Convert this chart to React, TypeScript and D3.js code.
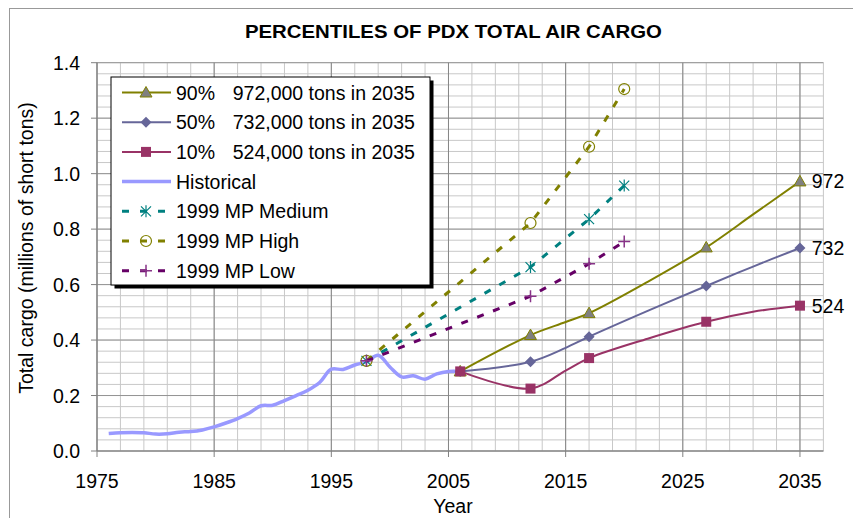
import React from "react";
import * as d3 from "d3";

// historical cargo, millions of short tons
const histYears = [
  1976, 1977, 1978, 1979, 1980, 1981, 1982, 1983, 1984, 1985, 1986, 1987, 1988,
  1989, 1990, 1991, 1992, 1993, 1994, 1995, 1996, 1997, 1998, 1999, 2000, 2001,
  2002, 2003, 2004, 2005, 2006,
];
const histCargo = [
  0.063, 0.066, 0.067, 0.066, 0.061, 0.062, 0.068, 0.07, 0.076, 0.087, 0.101,
  0.117, 0.137, 0.163, 0.165, 0.182, 0.2, 0.219, 0.247, 0.295, 0.294, 0.31,
  0.322, 0.345, 0.303, 0.267, 0.271, 0.259, 0.278, 0.287, 0.287,
];

// percentile forecasts
const fcYears = [2006, 2012, 2015, 2017, 2022, 2027, 2031, 2035];
const markerYears = [2006, 2012, 2017, 2027, 2035];
const p90 = [0.287, 0.418, 0.465, 0.497, 0.61, 0.734, 0.853, 0.972];
const p50 = [0.287, 0.322, 0.372, 0.412, 0.505, 0.595, 0.665, 0.732];
const p10 = [0.287, 0.225, 0.29, 0.335, 0.405, 0.466, 0.502, 0.524];

// 1999 master plan
const mpYears = [1998, 2012, 2017, 2020];
const mpHigh = [0.325, 0.822, 1.097, 1.305];
const mpMedium = [0.325, 0.663, 0.836, 0.957];
const mpLow = [0.325, 0.558, 0.675, 0.755];

const xTicks = [1975, 1985, 1995, 2005, 2015, 2025, 2035];
const yTicks = [0, 0.2, 0.4, 0.6, 0.8, 1.0, 1.2, 1.4];

const legendLabels = [
  ["90%", "972,000 tons in 2035"],
  ["50%", "732,000 tons in 2035"],
  ["10%", "524,000 tons in 2035"],
  ["Historical", ""],
  ["1999 MP Medium", ""],
  ["1999 MP High", ""],
  ["1999 MP Low", ""],
];

const W = 853;
const H = 518;
const FONT = "'Liberation Sans', Arial, sans-serif";

const x = d3.scaleLinear().domain([1975, 2037]).range([97, 823.4]);
const y = d3.scaleLinear().domain([0, 1.4]).range([451, 62.7]);

type Pt = [number, number];
const zip = (xs: number[], ys: number[]): Pt[] => xs.map((d, i) => [d, ys[i]]);

const smooth = d3
  .line<Pt>()
  .x((d) => x(d[0]))
  .y((d) => y(d[1]))
  .curve(d3.curveCatmullRom.alpha(0.5));
const straight = d3
  .line<Pt>()
  .x((d) => x(d[0]))
  .y((d) => y(d[1]));

function Marker({ kind, cx, cy }: { kind: string; cx: number; cy: number }) {
  const t = `translate(${cx},${cy})`;
  if (kind === "tri")
    return <path transform={t} d="M0,-6L6,4.5L-6,4.5Z" fill="#808080" stroke="#808000" strokeWidth={1} />;
  if (kind === "dia")
    return <path transform={t} d="M0,-5.5L5.5,0L0,5.5L-5.5,0Z" fill="#666699" />;
  if (kind === "sq")
    return <rect transform={t} x={-5} y={-5} width={10} height={10} fill="#993366" />;
  if (kind === "star")
    return (
      <path transform={t} d="M-5,-5L5,5M-5,5L5,-5M0,-6L0,6" stroke="#008080" strokeWidth={1.2} fill="none" />
    );
  if (kind === "circ")
    return <circle transform={t} r={5.5} fill="none" stroke="#808000" strokeWidth={1.2} />;
  if (kind === "plus")
    return <path transform={t} d="M-6,0L6,0M0,-6L0,6" stroke="#883388" strokeWidth={1.5} fill="none" />;
  return null;
}

const solidSeries = [
  { vals: p90, color: "#808000", marker: "tri" },
  { vals: p50, color: "#666699", marker: "dia" },
  { vals: p10, color: "#993366", marker: "sq" },
];
const dashSeries = [
  { vals: mpMedium, color: "#008080", marker: "star" },
  { vals: mpHigh, color: "#808000", marker: "circ" },
  { vals: mpLow, color: "#660066", marker: "plus" },
];

export default function App() {
  const minorX = d3.range(1975, 2038, 2);
  const minorY = d3.range(0, 1.4001, 0.04);
  const [x0, x1] = x.range();
  const [y0, y1] = y.range();

  const legendX = 111;
  const legendY = 77;
  const rowY = (i: number) => 92.5 + i * 29.7;

  return (
    <svg
      width={W}
      height={H}
      style={{ position: "absolute", left: 0, top: 0, display: "block", background: "#fff" }}
      fontFamily={FONT}
    >
      <rect x={9.5} y={8.5} width={W + 20} height={H + 20} fill="#fff" stroke="#999" />

      <text x={453.4} y={37.5} textAnchor="middle" fontWeight="bold" fontSize={18} textLength={417} lengthAdjust="spacingAndGlyphs">
        PERCENTILES OF PDX TOTAL AIR CARGO
      </text>

      {/* grid */}
      <g>
        {minorY.map((v) => (
          <line key={"hy" + v} x1={x0} x2={x1} y1={y(v)} y2={y(v)} stroke="#c8c8c8" />
        ))}
        {minorX.map((v) => (
          <line key={"vx" + v} x1={x(v)} x2={x(v)} y1={y0} y2={y1} stroke="#c8c8c8" />
        ))}
        {yTicks.map((v) => (
          <line key={"hY" + v} x1={x0} x2={x1} y1={y(v)} y2={y(v)} stroke="#959595" />
        ))}
        {xTicks.map((v) => (
          <line key={"vX" + v} x1={x(v)} x2={x(v)} y1={y0} y2={y1} stroke="#858585" />
        ))}
      </g>

      {/* axes */}
      <g stroke="#808080">
        <line x1={x0} x2={x0} y1={y0} y2={y1} />
        <line x1={x0} x2={x1} y1={y0} y2={y0} />
        {yTicks.map((v) => (
          <line key={"yt" + v} x1={x0 - 6} x2={x0} y1={y(v)} y2={y(v)} />
        ))}
        {xTicks.map((v) => (
          <line key={"xt" + v} x1={x(v)} x2={x(v)} y1={y0} y2={y0 + 6} />
        ))}
      </g>
      <g fontSize={19.5} fill="#000">
        {yTicks.map((v) => (
          <text key={"yl" + v} x={80} y={y(v) + 7} textAnchor="end">
            {d3.format(".1f")(v)}
          </text>
        ))}
        {xTicks.map((v) => (
          <text key={"xl" + v} x={x(v)} y={488} textAnchor="middle">
            {v}
          </text>
        ))}
        <text x={453} y={513} textAnchor="middle">
          Year
        </text>
        <text transform="translate(33,248) rotate(-90)" textAnchor="middle">
          Total cargo (millions of short tons)
        </text>
      </g>

      {/* historical */}
      <path d={smooth(zip(histYears, histCargo)) || ""} fill="none" stroke="#9999ff" strokeWidth={3.5} strokeLinejoin="round" />

      {/* 1999 master plan */}
      {dashSeries.map((s, i) => (
        <g key={"mp" + i}>
          <path d={straight(zip(mpYears, s.vals)) || ""} fill="none" stroke={s.color} strokeWidth={3} strokeDasharray="7 10" />
          {mpYears.map((yr, j) => (
            <Marker key={j} kind={s.marker} cx={x(yr)} cy={y(s.vals[j])} />
          ))}
        </g>
      ))}

      {/* percentiles */}
      {solidSeries.map((s, i) => {
        const pts = zip(fcYears, s.vals);
        return (
          <g key={"pc" + i}>
            <path d={smooth(pts) || ""} fill="none" stroke={s.color} strokeWidth={2} />
            {pts
              .filter((p) => markerYears.includes(p[0]))
              .map((p, j) => (
                <Marker key={j} kind={s.marker} cx={x(p[0])} cy={y(p[1])} />
              ))}
          </g>
        );
      })}

      {/* end labels */}
      <g fontSize={19.5}>
        {solidSeries.map((s, i) => {
          const v = s.vals[s.vals.length - 1];
          return (
            <text key={"el" + i} x={811.7} y={y(v) + 7}>
              {Math.round(v * 1000)}
            </text>
          );
        })}
      </g>

      {/* legend */}
      <rect x={legendX + 3.5} y={legendY + 3.5} width={319} height={208} fill="#000" />
      <rect x={legendX} y={legendY} width={319} height={208} fill="#fff" stroke="#000" />
      {legendLabels.map((lab, i) => {
        const cy = rowY(i);
        let sample: React.ReactNode;
        if (i < 3) {
          const s = solidSeries[i];
          sample = (
            <>
              <line x1={122} x2={171} y1={cy} y2={cy} stroke={s.color} strokeWidth={2} />
              <Marker kind={s.marker} cx={146} cy={cy} />
            </>
          );
        } else if (i === 3) {
          sample = <line x1={122} x2={171} y1={cy} y2={cy} stroke="#9999ff" strokeWidth={3.5} />;
        } else {
          const s = dashSeries[i - 4];
          sample = (
            <>
              <line x1={122} x2={171} y1={cy} y2={cy} stroke={s.color} strokeWidth={3} strokeDasharray="7 11" />
              <Marker kind={s.marker} cx={146} cy={cy} />
            </>
          );
        }
        return (
          <g key={"lg" + i}>
            {sample}
            <text x={176} y={cy + 7} fontSize={19.5}>
              {lab[0]}
            </text>
            {lab[1] && (
              <text x={232.7} y={cy + 7} fontSize={19.5}>
                {lab[1]}
              </text>
            )}
          </g>
        );
      })}
    </svg>
  );
}
